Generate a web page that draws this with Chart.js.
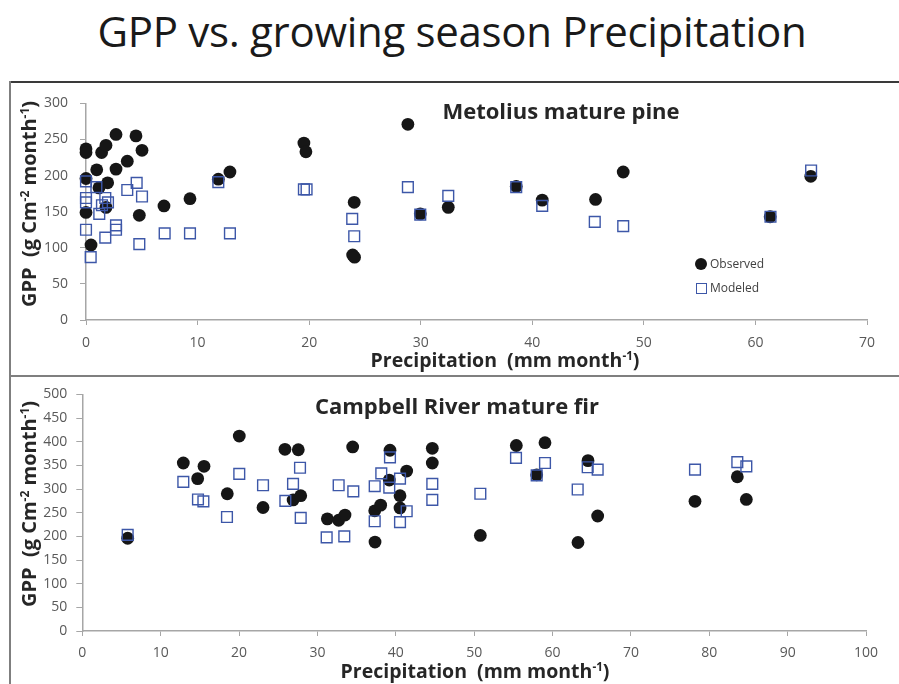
<!DOCTYPE html>
<html>
<head>
<meta charset="utf-8">
<script src="https://cdn.jsdelivr.net/npm/chart.js@4.4.1/dist/chart.umd.min.js"></script>
<style>
  html, body { margin: 0; padding: 0; background: #fff; }
  body { width: 899px; height: 684px; position: relative; overflow: hidden; font-family: 'Open Sans', sans-serif; }
  .abs { position: absolute; }
  #mainTitle { left: 452px; top: 30px; font-size: 42px; color: #1a1a1a; font-weight: 400; white-space: nowrap; transform: translate(-50%, -50%); letter-spacing: -0.3px; }
  .panelTitle { font-weight: 700; font-size: 22px; color: #262626; white-space: nowrap; transform: translate(-50%, -50%); }
  .xTitle { font-weight: 700; font-size: 19.5px; color: #262626; white-space: nowrap; transform: translate(-50%, -50%); }
  .yTitle { font-weight: 700; font-size: 20px; color: #262626; white-space: nowrap; transform: translate(-50%, -50%) rotate(-90deg); }
  sup { font-size: 0.6em; vertical-align: 0.55em; line-height: 0; }
  #legend { left: 695px; top: 252px; font-size: 12px; color: #404040; }
  #legend div { height: 24px; line-height: 20px; display: flex; align-items: center; }
  #legend span.mk { display: inline-block; margin-right: 3px; box-sizing: border-box; }
</style>
</head>
<body>
<div id="mainTitle" class="abs">GPP vs. growing season Precipitation</div>

<!-- panel frames -->
<div class="abs" style="left:9px;top:81px;width:890px;height:0;border-top:2px solid #3a3a3a;"></div>
<div class="abs" style="left:9px;top:81px;width:0;height:603px;border-left:2px solid #7f7f7f;"></div>
<div class="abs" style="left:9px;top:375px;width:890px;height:0;border-top:2px solid #7f7f7f;"></div>

<canvas id="metolius" class="abs" style="left:10px;top:83px;" width="889" height="292"></canvas>
<canvas id="campbell" class="abs" style="left:10px;top:377px;" width="889" height="307"></canvas>

<div class="abs panelTitle" style="left:561px;top:110px;">Metolius mature pine</div>
<div class="abs panelTitle" style="left:457px;top:405px;">Campbell River mature fir</div>
<div class="abs xTitle" style="left:505px;top:359px;">Precipitation&nbsp; (mm month<sup>-1</sup>)</div>
<div class="abs xTitle" style="left:475px;top:670px;">Precipitation&nbsp; (mm month<sup>-1</sup>)</div>
<div class="abs yTitle" style="left:28px;top:204px;">GPP&nbsp; (g Cm<sup>-2</sup> month<sup>-1</sup>)</div>
<div class="abs yTitle" style="left:28px;top:504px;">GPP&nbsp; (g Cm<sup>-2</sup> month<sup>-1</sup>)</div>
<div id="legend" class="abs"></div>

<script>
// Metolius mature pine (top panel)
const metoliusObsPrecip = [0, 0, 0, 0, 0.45, 0.96, 1.16, 1.4, 1.79, 1.94, 1.79, 2.69, 2.69, 3.7, 4.48, 5.02, 4.78, 6.99, 9.32, 11.86, 12.9,
  19.53, 19.71, 24.04, 23.9, 24.07, 28.85, 29.96, 32.47, 38.56, 40.89, 45.67, 48.15, 61.32, 64.96];
const metoliusObsGpp = [237, 232, 196, 149, 104, 208, 183, 232, 242, 190, 156, 257, 209, 220, 255, 235, 145, 158, 168, 195, 205,
  245, 233, 163, 90, 87, 271, 147, 156, 185, 166, 167, 205, 143, 199];
const metoliusModPrecip = [0, 0, 0, 0, 0.42, 0.93, 1.19, 1.43, 1.73, 1.97, 1.73, 2.69, 2.69, 3.7, 4.54, 5.02, 4.78, 7.05, 9.32, 12.9, 11.86,
  19.53, 19.77, 23.86, 24.04, 28.85, 29.96, 32.47, 38.56, 40.89, 45.6, 48.15, 61.35, 64.99];
const metoliusModGpp = [192, 169, 163, 125, 87, 184, 147, 159, 169, 163, 114, 131, 125, 180, 190, 171, 105, 120, 120, 120, 191,
  181, 181, 140, 116, 184, 146, 172, 184, 158, 136, 130, 143, 207];

// Campbell River mature fir (bottom panel)
const campbellObsPrecip = [5.79, 12.89, 14.72, 15.53, 18.5, 20.03, 23.06, 25.86, 26.9, 27.56, 27.87, 31.27, 32.71, 33.52, 34.5,
  37.35, 37.31, 38.07, 39.26, 39.17, 40.54, 40.54, 41.39, 44.66, 44.66, 50.79, 55.38, 57.98, 59.04, 63.25, 64.53, 65.76, 78.18, 83.58, 84.73];
const campbellObsGpp = [196, 355, 322, 348, 290, 412, 261, 384, 277, 383, 286, 237, 234, 245, 389,
  188, 254, 266, 382, 319, 286, 260, 338, 386, 355, 202, 392, 330, 398, 187, 360, 243, 274, 326, 278];
const campbellModPrecip = [5.79, 12.89, 14.76, 15.45, 18.46, 20.03, 23.06, 25.91, 26.89, 27.78, 27.87, 31.18, 32.71, 33.43, 34.58,
  37.31, 37.31, 38.15, 39.17, 39.26, 40.54, 40.54, 41.39, 44.66, 44.66, 50.79, 55.34, 57.98, 59.04, 63.21, 64.49, 65.76, 78.18, 83.58, 84.73];
const campbellModGpp = [203, 315, 278, 274, 241, 332, 308, 275, 311, 345, 239, 198, 308, 200, 295,
  306, 232, 333, 303, 367, 322, 230, 253, 311, 277, 290, 366, 329, 355, 299, 346, 341, 341, 357, 348];

const seriesNames = ['Observed', 'Modeled'];
const obsColor = '#161616';
const modColor = '#3d57a8';
const axisColor = '#a6a6a6';

Chart.defaults.font.family = "'Open Sans', sans-serif";
Chart.defaults.color = '#595959';

function pairs(xs, ys) {
  return xs.map((x, i) => ({ x: x, y: ys[i] }));
}

function makeChart(id, d, a) {
  return new Chart(document.getElementById(id), {
    type: 'scatter',
    data: {
      datasets: [
        {
          label: seriesNames[0], data: pairs(d.obsX, d.obsY), order: 1, clip: false,
          pointStyle: 'circle', pointRadius: 6.4, backgroundColor: obsColor, borderColor: obsColor, borderWidth: 0
        },
        {
          label: seriesNames[1], data: pairs(d.modX, d.modY), order: 0, clip: false,
          pointStyle: 'rect', pointRadius: 7.6, backgroundColor: 'rgba(0,0,0,0)', borderColor: modColor, borderWidth: 1.4
        }
      ]
    },
    options: {
      responsive: false,
      animation: false,
      devicePixelRatio: 1,
      layout: { padding: a.padding },
      plugins: { legend: { display: false }, tooltip: { enabled: false } },
      scales: {
        x: {
          type: 'linear', min: 0, max: a.xMax,
          ticks: { stepSize: 10, font: { size: 14 }, padding: a.xPad },
          grid: { drawOnChartArea: false, tickLength: 5, color: axisColor },
          border: { color: axisColor, width: 1.5 },
          afterFit: s => { s.height = a.xHeight; }
        },
        y: {
          min: 0, max: a.yMax,
          ticks: { stepSize: a.yStep, font: { size: 14 }, padding: a.yPad },
          grid: { drawOnChartArea: false, tickLength: 6, color: axisColor },
          border: { color: axisColor, width: 1.5 },
          afterFit: s => { s.width = a.yWidth; }
        }
      }
    }
  });
}

const metoliusChart = makeChart('metolius',
  { obsX: metoliusObsPrecip, obsY: metoliusObsGpp, modX: metoliusModPrecip, modY: metoliusModGpp },
  { xMax: 70, yMax: 300, yStep: 50, xPad: 10, yPad: 12, xHeight: 55, yWidth: 76,
    padding: { top: 14.7, right: 32, left: 0, bottom: 0 } });

makeChart('campbell',
  { obsX: campbellObsPrecip, obsY: campbellObsGpp, modX: campbellModPrecip, modY: campbellModGpp },
  { xMax: 100, yMax: 500, yStep: 50, xPad: 9, yPad: 9, xHeight: 53, yWidth: 72.3,
    padding: { top: 13, right: 33, left: 0, bottom: 0 } });

// legend for the top panel, built from the dataset styles
const legend = document.getElementById('legend');
metoliusChart.data.datasets.forEach(ds => {
  const row = document.createElement('div');
  const mk = document.createElement('span');
  mk.className = 'mk';
  if (ds.pointStyle === 'circle') {
    mk.style.cssText = 'width:12px;height:12px;border-radius:50%;background:' + ds.backgroundColor;
  } else {
    mk.style.cssText = 'width:11px;height:11px;margin-left:1px;border:1.4px solid ' + ds.borderColor;
  }
  row.appendChild(mk);
  row.appendChild(document.createTextNode(ds.label));
  legend.appendChild(row);
});
</script>
</body>
</html>
